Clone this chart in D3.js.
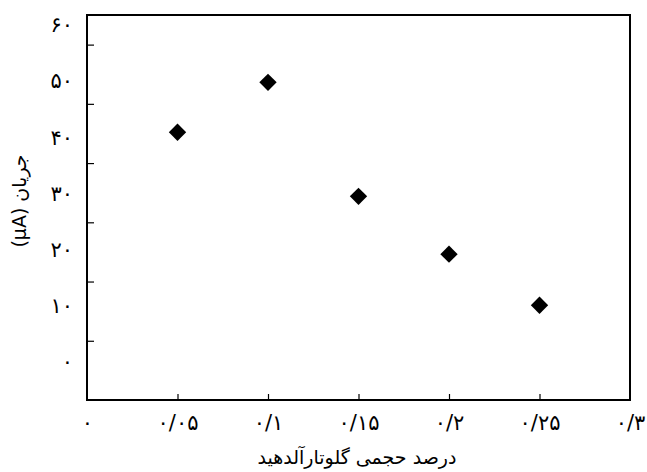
<!DOCTYPE html>
<html>
<head>
<meta charset="utf-8">
<script src="https://cdn.jsdelivr.net/npm/d3@7"></script>
<style>
  body { margin: 0; background: #fff; }
  text { font-family: "DejaVu Sans", sans-serif; }
</style>
</head>
<body>
<div id="chart"></div>
<script>
// glutaraldehyde volume percent vs current (µA)
var percents = [0.05, 0.1, 0.15, 0.2, 0.25];
var currents = [40.9, 49.8, 29.5, 19.2, 10.1];
var xTicks = [0, 0.05, 0.1, 0.15, 0.2, 0.25, 0.3];
var yTicks = [0, 10, 20, 30, 40, 50, 60];
var yMarks = [10, 20, 30, 40, 50, 60];

var width = 647, height = 472;
var plotLeft = 87, plotRight = 630, plotTop = 15, plotBottom = 400;

var faDigits = "۰۱۲۳۴۵۶۷۸۹";
function toFa(s) {
    return String(s).replace(/[0-9]/g, function(c) { return faDigits[+c]; }).replace(".", "/");
}

var svg = d3.select("#chart").append("svg")
    .attr("width", width)
    .attr("height", height);

var x = d3.scaleLinear().domain([0, 0.3]).range([plotLeft, plotRight]);
// value labels and tick marks don't line up in the original figure
var y = d3.scaleLinear().domain([0, 60]).range([362, 25]);
var yTick = d3.scaleLinear().domain([0, 65]).range([plotBottom, plotTop]);

// frame
svg.append("rect")
    .attr("x", plotLeft)
    .attr("y", plotTop)
    .attr("width", plotRight - plotLeft)
    .attr("height", plotBottom - plotTop)
    .attr("fill", "none")
    .attr("stroke", "#000")
    .attr("stroke-width", 2);

// x tick marks (inside)
svg.append("g")
    .attr("transform", "translate(0," + plotBottom + ")")
    .call(d3.axisTop(x).tickValues(xTicks.slice(1, -1)).tickSize(6).tickFormat(""))
    .call(function(g) { g.select(".domain").remove(); })
    .selectAll("line").attr("stroke-width", 1.2);

// x labels
svg.append("g")
    .attr("transform", "translate(0," + plotBottom + ")")
    .call(d3.axisBottom(x).tickValues(xTicks).tickSize(0).tickPadding(15)
        .tickFormat(function(d) { return toFa(+d.toFixed(2)); }))
    .call(function(g) { g.select(".domain").remove(); })
    .selectAll("text")
    .attr("font-size", 21)
    .attr("letter-spacing", 2)
    .attr("fill", "#000")
    .attr("font-family", "DejaVu Sans");

// y tick marks (inside)
svg.append("g")
    .attr("transform", "translate(" + plotLeft + ",0)")
    .call(d3.axisRight(yTick).tickValues(yMarks).tickSize(7).tickFormat(""))
    .call(function(g) { g.select(".domain").remove(); })
    .selectAll("line").attr("stroke-width", 1.2);

// y labels
svg.append("g")
    .attr("transform", "translate(" + plotLeft + ",0)")
    .call(d3.axisLeft(y).tickValues(yTicks).tickSize(0).tickPadding(14).tickFormat(toFa))
    .call(function(g) { g.select(".domain").remove(); })
    .selectAll("text")
    .attr("font-size", 21)
    .attr("letter-spacing", 1)
    .attr("fill", "#000")
    .attr("font-family", "DejaVu Sans");

// points
var diamond = d3.symbol().type(d3.symbolSquare).size(150);
svg.append("g")
    .selectAll("path")
    .data(percents)
    .enter().append("path")
    .attr("d", diamond)
    .attr("fill", "#000")
    .attr("transform", function(d, i) {
        return "translate(" + x(d) + "," + y(currents[i]) + ") rotate(45)";
    });

// axis titles
svg.append("text")
    .attr("x", 357)
    .attr("y", 457)
    .attr("dy", "0.35em")
    .attr("text-anchor", "middle")
    .attr("direction", "rtl")
    .attr("font-size", 19)
    .text("درصد حجمی گلوتارآلدهید");

svg.append("text")
    .attr("transform", "translate(19,201) rotate(-90)")
    .attr("dy", "0.35em")
    .attr("text-anchor", "middle")
    .attr("direction", "rtl")
    .attr("font-size", 19)
    .text("جریان (μA)");
</script>
</body>
</html>
